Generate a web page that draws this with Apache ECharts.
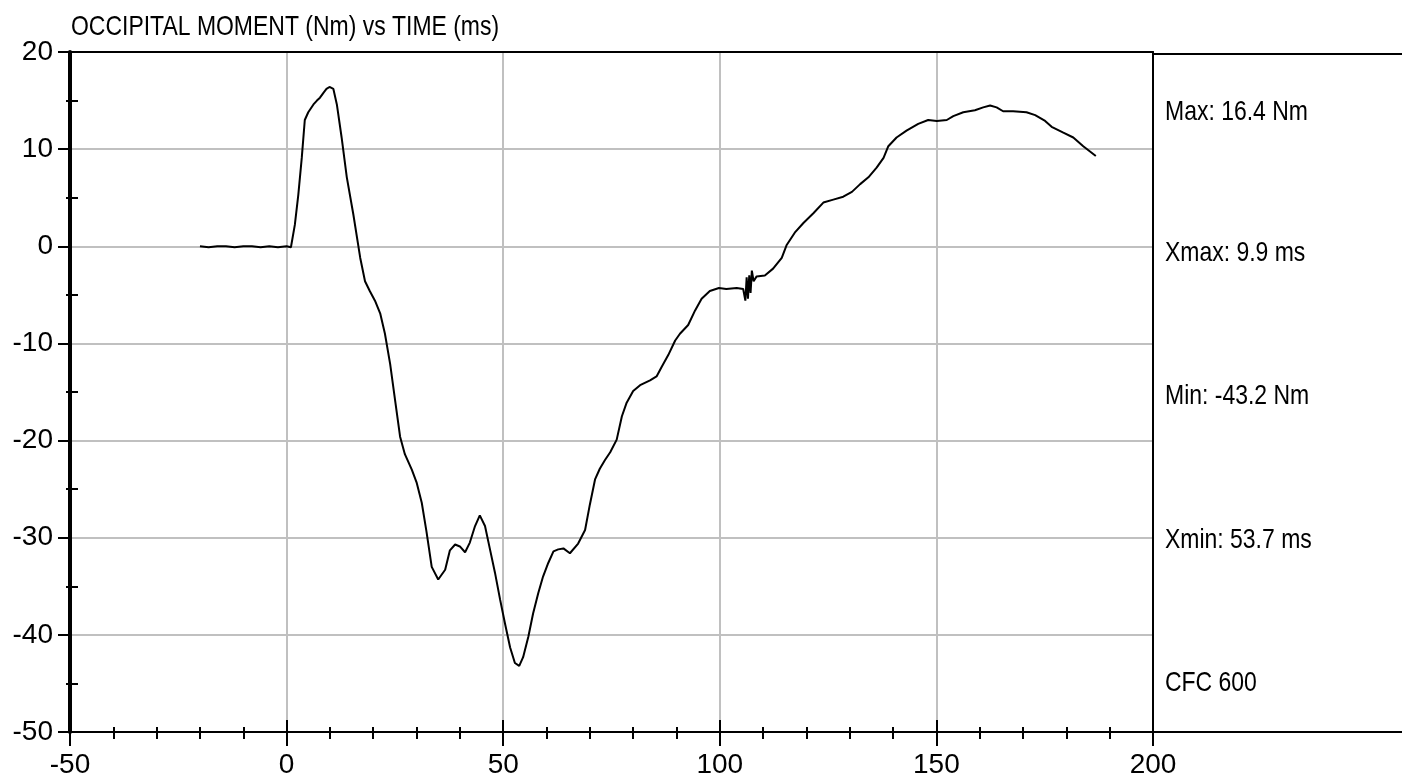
<!DOCTYPE html>
<html>
<head>
<meta charset="utf-8">
<script src="https://cdn.jsdelivr.net/npm/echarts@6/dist/echarts.min.js"></script>
<style>
html,body{margin:0;padding:0;background:#fff;}
#chart{width:1402px;height:781px;}
</style>
</head>
<body>
<div id="chart"></div>
<script>
// ---- data ----
const timeMs = [-20,-18,-16,-14,-12,-10,-8,-6,-4,-2,0,1,
  1.2,1.9,2.7,3.5,4.2,5.0,6.2,7.0,7.7,8.5,9.2,9.9,10.8,11.6,12.7,13.9,15.4,17,18.1,19.2,
  20.4,21.6,22.7,23.9,25,26.2,27.3,28.9,30,31.2,32.3,33.5,35,36.6,37.7,38.9,40,41.2,42.3,
  43.5,44.6,45.8,47,48.1,49.3,50.4,51.6,52.7,53.7,54.6,55.8,56.9,58.1,59.2,60.4,61.6,62.7,
  63.9,65.4,67.3,68.9,70,71.2,72.3,73.5,74.7,76.2,77.4,78.5,80,81.6,83.9,85.4,86.6,88.1,
  89.7,90.8,92.7,94.3,95.8,97.7,99.8,101.5,103.9,105.4,105.9,106.2,106.5,106.8,107.1,107.4,
  107.8,108.5,110.4,112.3,114.3,115.4,117.3,119.3,121.6,123.9,126.2,128.5,130.5,132.4,134.3,
  136.2,137.8,138.9,140.8,143.1,145.8,148.1,150.1,152.4,153.9,156.2,158.9,160.8,162.4,163.9,
  165.4,167.7,170.8,172.8,175.1,176.6,179.3,181.6,183.9,186.8];
const momentNm = [0,-0.1,0,0,-0.1,0,0,-0.1,0,-0.1,0,-0.1,
  0.1,2.2,5.3,9.1,13.0,13.8,14.6,15.0,15.3,15.8,16.2,16.4,16.2,14.6,11.2,7.1,3.3,-1.2,-3.6,-4.6,
  -5.6,-6.9,-9.0,-12.1,-15.7,-19.6,-21.4,-23.0,-24.3,-26.4,-29.4,-33.0,-34.3,-33.3,-31.3,-30.7,-30.9,-31.5,-30.5,
  -28.8,-27.7,-28.8,-31.3,-33.6,-36.4,-38.8,-41.3,-42.9,-43.2,-42.3,-40.2,-37.8,-35.7,-34.0,-32.6,-31.4,-31.2,
  -31.1,-31.6,-30.6,-29.2,-26.6,-24.0,-22.9,-22.0,-21.2,-19.9,-17.5,-16.1,-14.9,-14.3,-13.8,-13.4,-12.4,-11.2,
  -9.7,-9.0,-8.1,-6.6,-5.4,-4.6,-4.3,-4.4,-4.3,-4.4,-5.6,-3.2,-5.4,-3.0,-4.8,-2.5,
  -3.6,-3.1,-3.0,-2.3,-1.2,0.1,1.4,2.4,3.4,4.5,4.8,5.1,5.6,6.4,7.1,
  8.1,9.1,10.3,11.2,11.9,12.6,13.0,12.9,13.0,13.4,13.8,14.0,14.3,14.5,14.3,
  13.9,13.9,13.8,13.5,12.9,12.3,11.7,11.2,10.3,9.3];
const titleText = 'OCCIPITAL MOMENT (Nm) vs TIME (ms)';
const statLabels = ['Max: 16.4 Nm','Xmax: 9.9 ms','Min: -43.2 Nm','Xmin: 53.7 ms','CFC 600'];
const xRange = [-50, 200, 50];
const yRange = [-50, 20, 10];

// ---- layout ----
const W = 1402, H = 781;
const G = {left: 70, right: 249, top: 52, bottom: 49};
const plotRight = W - G.right;
const plotBottom = H - G.bottom;
const statY = [112, 253, 396, 540, 683];
const regular = '"Liberation Sans",Arial,sans-serif';
const narrowScale = 0.82;

const chart = echarts.init(document.getElementById('chart'), null, {renderer: 'canvas'});
const black = '#000';
const hidden = {show: false};

const baseX = {type: 'value', min: xRange[0], max: xRange[1], interval: xRange[2]};
const baseY = {type: 'value', min: yRange[0], max: yRange[1], interval: yRange[2]};

const graphics = [
  {type: 'text', x: 71, y: 27, scaleX: narrowScale,
    style: {text: titleText, font: '28px ' + regular, fill: black, verticalAlign: 'middle', align: 'left'}},
  {type: 'line', shape: {x1: plotRight, y1: G.top + 2, x2: W, y2: G.top + 2}, style: {stroke: black, lineWidth: 2}},
  {type: 'line', shape: {x1: plotRight, y1: plotBottom, x2: W, y2: plotBottom}, style: {stroke: black, lineWidth: 2}}
];
statLabels.forEach((t, i) => {
  graphics.push({type: 'text', x: plotRight + 12, y: statY[i], scaleX: narrowScale,
    style: {text: t, font: '28px ' + regular, fill: black, verticalAlign: 'middle', align: 'left'}});
});

chart.setOption({
  animation: false,
  backgroundColor: '#fff',
  grid: {left: G.left, right: G.right, top: G.top, bottom: G.bottom, containLabel: false},
  xAxis: [
    Object.assign({}, baseX, {
      position: 'bottom',
      axisLine: {show: true, onZero: false, lineStyle: {color: black, width: 2}},
      axisTick: {show: true, length: 14, lineStyle: {color: black, width: 2}},
      minorTick: {show: true, splitNumber: 5, length: 7, lineStyle: {color: black, width: 2}},
      axisLabel: {show: true, fontSize: 28, fontFamily: regular, color: black, margin: 19},
      splitLine: {show: true, lineStyle: {color: '#c0c0c0', width: 2}}
    }),
    Object.assign({}, baseX, {
      position: 'bottom',
      axisLine: {show: false, onZero: false}, axisLabel: hidden, splitLine: hidden,
      axisTick: {show: true, inside: true, length: 12, lineStyle: {color: black, width: 2}},
      minorTick: {show: true, splitNumber: 5, length: 5, lineStyle: {color: black, width: 2}}
    }),
    Object.assign({}, baseX, {
      position: 'top',
      axisLine: {show: true, onZero: false, lineStyle: {color: black, width: 2}},
      axisTick: hidden, axisLabel: hidden, splitLine: hidden, minorTick: hidden
    })
  ],
  yAxis: [
    Object.assign({}, baseY, {
      position: 'left',
      axisLine: {show: true, onZero: false, lineStyle: {color: black, width: 4}},
      axisTick: {show: true, length: 12, lineStyle: {color: black, width: 2}},
      minorTick: {show: true, splitNumber: 2, length: 4, lineStyle: {color: black, width: 2}},
      axisLabel: {show: true, fontSize: 28, fontFamily: regular, color: black, margin: 17},
      splitLine: {show: true, lineStyle: {color: '#c0c0c0', width: 2}}
    }),
    Object.assign({}, baseY, {
      position: 'left',
      axisLine: {show: false, onZero: false}, axisLabel: hidden, splitLine: hidden,
      axisTick: {show: false, inside: true},
      minorTick: {show: true, splitNumber: 2, length: 8, lineStyle: {color: black, width: 2}}
    }),
    Object.assign({}, baseY, {
      position: 'right',
      axisLine: {show: true, onZero: false, lineStyle: {color: black, width: 2}},
      axisTick: hidden, axisLabel: hidden, splitLine: hidden, minorTick: hidden
    })
  ],
  series: [{
    type: 'line',
    xAxisIndex: 0, yAxisIndex: 0,
    data: timeMs.map((t, i) => [t, momentNm[i]]),
    showSymbol: false,
    symbol: 'none',
    lineStyle: {color: black, width: 2},
    z: 5
  }],
  graphic: graphics
});
</script>
</body>
</html>
